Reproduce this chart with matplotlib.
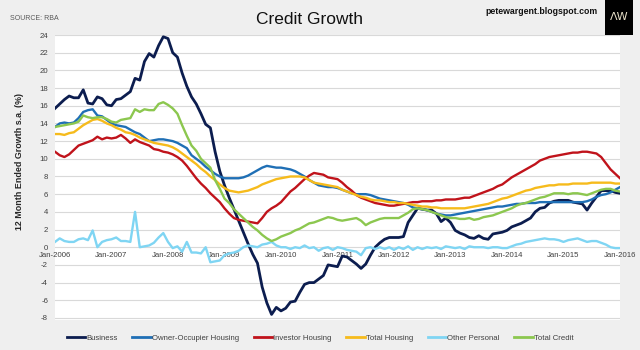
import matplotlib
matplotlib.use("Agg")
import matplotlib.pyplot as plt
from matplotlib.patches import Rectangle

plt.rcParams['font.family'] = ['Liberation Sans', 'DejaVu Sans']

# Monthly, Jan-2006 .. Jan-2016
business = [15.7, 16.2, 16.7, 17.1, 16.9, 16.9, 17.8, 16.3, 16.2, 17.0, 16.8, 16.1,
            16.0, 16.7, 16.8, 17.2, 17.6, 19.1, 18.9, 21.0, 21.9, 21.5, 22.8, 23.8,
            23.6, 22.0, 21.5, 19.7, 18.2, 17.0, 16.2, 15.1, 13.9, 13.5, 10.8, 8.6,
            7.0, 5.6, 4.3, 3.0, 1.7, 0.4, -0.8, -1.8, -4.5, -6.3, -7.6, -6.8,
            -7.2, -6.9, -6.2, -6.1, -5.1, -4.2, -4.0, -4.0, -3.6, -3.2, -2.0, -2.1,
            -2.2, -1.0, -1.1, -1.5, -1.9, -2.4, -1.9, -0.9, 0.0, 0.5, 0.9, 1.1,
            1.1, 1.1, 1.2, 2.8, 3.6, 4.4, 4.3, 4.2, 4.2, 3.8, 2.9, 3.3,
            2.8, 1.9, 1.6, 1.4, 1.1, 1.0, 1.3, 1.0, 0.9, 1.5, 1.6, 1.7,
            1.9, 2.3, 2.5, 2.7, 3.0, 3.3, 4.0, 4.4, 4.5, 5.0, 5.2, 5.3,
            5.3, 5.3, 5.1, 5.0, 4.9, 4.2, 5.0, 5.7, 6.4, 6.4, 6.4, 6.2, 6.1]
owner_occupier = [13.6, 14.0, 14.1, 14.0, 14.1, 14.6, 15.3, 15.5, 15.6, 14.9, 14.8, 14.4,
                  14.0, 13.8, 13.7, 13.6, 13.3, 13.0, 12.8, 12.4, 12.0, 12.1, 12.2, 12.2,
                  12.1, 12.0, 11.8, 11.5, 11.2, 10.4, 10.0, 9.6, 9.1, 8.7, 8.3, 8.0,
                  7.8, 7.8, 7.8, 7.8, 7.9, 8.1, 8.4, 8.7, 9.0, 9.2, 9.1, 9.0,
                  9.0, 8.9, 8.8, 8.6, 8.3, 8.0, 7.6, 7.3, 7.0, 6.9, 6.8, 6.8,
                  6.7, 6.5, 6.3, 6.1, 6.0, 6.0, 6.0, 5.9, 5.7, 5.5, 5.4, 5.3,
                  5.2, 5.1, 5.0, 4.8, 4.5, 4.4, 4.3, 4.2, 4.0, 3.8, 3.7, 3.6,
                  3.6, 3.7, 3.8, 3.9, 4.0, 4.1, 4.2, 4.3, 4.4, 4.5, 4.6, 4.6,
                  4.7, 4.8, 4.9, 4.9, 5.0, 5.0, 5.0, 5.1, 5.1, 5.1, 5.1, 5.1,
                  5.1, 5.1, 5.1, 5.1, 5.1, 5.2, 5.4, 5.7, 5.9, 6.0, 6.2, 6.5, 6.8]
investor = [10.8, 10.4, 10.2, 10.5, 11.0, 11.5, 11.7, 11.9, 12.1, 12.5, 12.2, 12.4,
            12.3, 12.4, 12.7, 12.3, 11.8, 12.2, 11.9, 11.7, 11.5, 11.1, 11.0, 10.8,
            10.7, 10.5, 10.2, 9.8, 9.2, 8.5, 7.8, 7.2, 6.7, 6.1, 5.6, 5.1,
            4.4, 3.8, 3.3, 3.1, 3.0, 2.9, 2.8, 2.7, 3.3, 4.0, 4.4, 4.7,
            5.1, 5.7, 6.3, 6.7, 7.2, 7.7, 8.1, 8.4, 8.3, 8.2, 7.9, 7.8,
            7.7, 7.3, 6.8, 6.4, 5.9, 5.6, 5.4, 5.2, 5.0, 4.9, 4.8, 4.7,
            4.7, 4.8, 4.9, 5.0, 5.1, 5.1, 5.2, 5.2, 5.2, 5.3, 5.3, 5.4,
            5.4, 5.4, 5.5, 5.6, 5.6, 5.8, 6.0, 6.2, 6.4, 6.6, 6.9, 7.1,
            7.5, 7.9, 8.2, 8.5, 8.8, 9.1, 9.4, 9.8, 10.0, 10.2, 10.3, 10.4,
            10.5, 10.6, 10.7, 10.7, 10.8, 10.8, 10.7, 10.6, 10.2, 9.5, 8.8, 8.3, 7.8]
total_housing = [12.8, 12.8, 12.7, 12.9, 13.0, 13.4, 13.8, 14.1, 14.4, 14.5, 14.3, 14.0,
                 13.8, 13.5, 13.3, 13.0, 12.9, 12.7, 12.4, 12.2, 12.0, 11.8, 11.7, 11.6,
                 11.5, 11.3, 11.0, 10.6, 10.2, 9.8, 9.4, 8.9, 8.5, 8.0, 7.6, 7.1,
                 6.7, 6.4, 6.3, 6.2, 6.3, 6.4, 6.6, 6.8, 7.1, 7.3, 7.5, 7.7,
                 7.8, 7.9, 8.0, 8.0, 8.0, 7.9, 7.6, 7.3, 7.2, 7.1, 7.0, 6.9,
                 6.8, 6.5, 6.3, 6.1, 5.9, 5.7, 5.6, 5.4, 5.3, 5.3, 5.2, 5.1,
                 5.1, 5.0, 5.0, 4.9, 4.8, 4.7, 4.6, 4.6, 4.5, 4.5, 4.4, 4.4,
                 4.4, 4.4, 4.4, 4.4, 4.5, 4.6, 4.7, 4.8, 4.9, 5.1, 5.3, 5.5,
                 5.6, 5.8, 6.0, 6.2, 6.4, 6.5, 6.7, 6.8, 6.9, 7.0, 7.0, 7.1,
                 7.1, 7.1, 7.2, 7.2, 7.2, 7.2, 7.3, 7.3, 7.3, 7.3, 7.3, 7.2, 7.2]
other_personal = [0.6, 1.0, 0.7, 0.6, 0.6, 0.9, 1.0, 0.8, 1.9, 0.0, 0.6, 0.8,
                  0.9, 1.1, 0.7, 0.7, 0.6, 4.0, 0.0, 0.1, 0.2, 0.5, 1.1, 1.6,
                  0.6, -0.1, 0.1, -0.5, 0.6, -0.6, -0.6, -0.7, 0.0, -1.7, -1.6, -1.5,
                  -0.9, -0.7, -0.6, -0.4, 0.0, 0.2, 0.1, 0.0, 0.3, 0.4, 0.6, 0.2,
                  0.0, 0.0, -0.2, 0.0, -0.1, 0.2, -0.1, 0.0, -0.4, -0.1, 0.0, -0.3,
                  0.0, -0.1, -0.3, -0.4, -0.5, -0.9, -0.1, 0.0, -0.2, 0.0, -0.2, 0.0,
                  -0.3, 0.0, -0.2, 0.1, -0.3, 0.0, -0.2, 0.0, -0.1, 0.0, -0.2, 0.1,
                  0.0, -0.1, 0.0, -0.2, 0.1, 0.0, 0.0, 0.0, -0.1, 0.0, 0.0, -0.1,
                  -0.1, 0.1, 0.3, 0.4, 0.6, 0.7, 0.8, 0.9, 1.0, 0.9, 0.9, 0.8,
                  0.6, 0.8, 0.9, 1.0, 0.8, 0.6, 0.7, 0.7, 0.5, 0.3, 0.0, -0.1, -0.1]
total_credit = [13.6, 13.7, 13.8, 13.9, 14.0, 14.2, 14.9, 14.7, 14.6, 14.7, 14.7, 14.5,
                14.2, 14.1, 14.4, 14.5, 14.6, 15.6, 15.3, 15.6, 15.5, 15.5, 16.2, 16.4,
                16.1, 15.7, 15.1, 13.8, 12.6, 11.5, 10.9, 10.0, 9.5, 9.0, 7.6, 6.6,
                5.5, 5.0, 4.3, 3.8, 3.3, 2.8, 2.3, 1.9, 1.4, 1.0, 0.7, 0.9,
                1.2, 1.4, 1.6, 1.9, 2.1, 2.4, 2.7, 2.8, 3.0, 3.2, 3.4, 3.3,
                3.1, 3.0, 3.1, 3.2, 3.3, 3.0, 2.5, 2.8, 3.0, 3.2, 3.3, 3.3,
                3.3, 3.3, 3.6, 3.9, 4.3, 4.4, 4.3, 4.2, 4.0, 3.8, 3.6, 3.4,
                3.3, 3.3, 3.2, 3.2, 3.3, 3.1, 3.2, 3.4, 3.5, 3.6, 3.8, 4.0,
                4.2, 4.4, 4.7, 4.9, 5.0, 5.2, 5.4, 5.6, 5.7, 5.9, 6.1, 6.1,
                6.1, 6.0, 6.1, 6.1, 6.0, 5.9, 6.1, 6.3, 6.5, 6.6, 6.6, 6.4, 6.3]

series_names = ['Business', 'Owner-Occupier Housing', 'Investor Housing',
                'Total Housing', 'Other Personal', 'Total Credit']
series_values = [business, owner_occupier, investor, total_housing, other_personal, total_credit]
series_colors = ['#0c1d4f', '#1f6fb5', '#c0131b', '#f6bb1c', '#7fd5f3', '#8cc74f']

x_tick_labels = ['Jan-%d' % y for y in range(2006, 2017)]
y_ticks = list(range(-8, 25, 2))

BG = '#efefef'
fig = plt.figure(figsize=(6.4, 3.5), dpi=100, facecolor=BG)
ax = fig.add_axes([55/640, (350-320)/350, 565/640, (320-35)/350])
ax.set_facecolor('white')

months = list(range(len(business)))
for name, vals, col in zip(series_names, series_values, series_colors):
    lw = 2.0 if name == 'Business' else 1.7
    ax.plot(months, vals, color=col, lw=lw, label=name, solid_joinstyle='round')

ax.set_xlim(0, 120)
ax.set_ylim(-8.23, 24)
ax.set_yticks(y_ticks)
ax.set_yticklabels([str(v) for v in y_ticks])
ax.set_xticks(list(range(0, 121, 12)))
ax.set_xticklabels(x_tick_labels)
ax.grid(axis='y', color='#d9d9d9', lw=0.8)
ax.set_axisbelow(True)
for s in ax.spines.values():
    s.set_visible(False)
ax.spines['bottom'].set_position(('data', 0))
ax.tick_params(axis='both', length=0, labelsize=5.6, colors='#404040')
ax.tick_params(axis='y', pad=5)
ax.tick_params(axis='x', pad=3.5)

fig.text(20/640, 1 - 162/350, '12 Month Ended Growth s.a. (%)', rotation=90,
         ha='center', va='center', fontsize=6.4, fontweight='bold', color='#262626')

fig.text(310/640, 1 - 20/350, 'Credit Growth', ha='center', va='center',
         fontsize=12.5, color='#111111')
fig.text(10/640, 1 - 19/350, 'SOURCE: RBA', ha='left', va='center',
         fontsize=5, color='#595959')
fig.text(598/640, 1 - 11/350, 'petewargent.blogspot.com', ha='right', va='center',
         fontsize=6.3, fontweight='bold', color='#111111')
fig.patches.append(Rectangle((605/640, 1 - 35/350), 28/640, 35/350,
                             transform=fig.transFigure, facecolor='black',
                             edgecolor='none', zorder=5))
fig.text(619/640, 1 - 17/350, 'ΛW', ha='center', va='center', fontsize=8,
         color='#e8e0c8', zorder=6, family=['DejaVu Sans'])

leg = fig.legend(loc='center', bbox_to_anchor=(320/640, 12/350), ncol=6,
                 frameon=False, fontsize=5.6, handlelength=2.4, handletextpad=0.1,
                 columnspacing=1.9, borderaxespad=0)
for t in leg.get_texts():
    t.set_color('#404040')
for h in leg.legend_handles:
    h.set_linewidth(2)

fig.savefig('out.png', dpi=100, facecolor=BG)
